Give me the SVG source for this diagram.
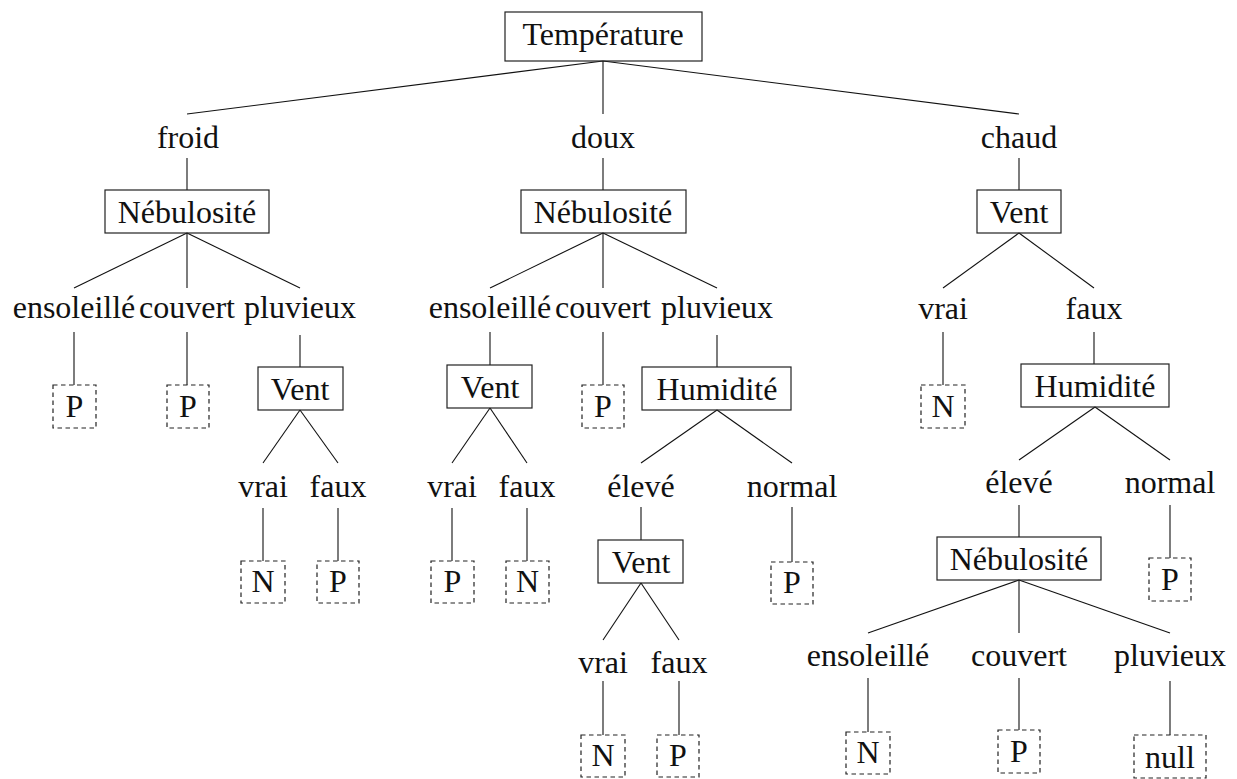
<svg xmlns="http://www.w3.org/2000/svg" width="1237" height="779" viewBox="0 0 1237 779">
<style>
text{font-family:'Liberation Serif','DejaVu Serif',serif;font-size:32px;fill:#111;text-anchor:middle}
.box{fill:none;stroke:#222;stroke-width:1.2}
.leaf{fill:none;stroke:#222;stroke-width:1.2;stroke-dasharray:4.5 3.5}
#edges line{stroke:#111;stroke-width:1.1}
</style>
<rect width="1237" height="779" fill="#fff"/>
<g id="edges">
<line x1="603" y1="61" x2="187" y2="114"/>
<line x1="603" y1="61" x2="603" y2="114"/>
<line x1="603" y1="61" x2="1019" y2="114"/>
<line x1="187" y1="158" x2="187" y2="190"/>
<line x1="603" y1="158" x2="603" y2="190"/>
<line x1="1019" y1="158" x2="1019" y2="190"/>
<line x1="187" y1="233" x2="74" y2="288"/>
<line x1="187" y1="233" x2="187" y2="288"/>
<line x1="187" y1="233" x2="300" y2="288"/>
<line x1="603" y1="233" x2="490" y2="288"/>
<line x1="603" y1="233" x2="603" y2="288"/>
<line x1="603" y1="233" x2="717" y2="288"/>
<line x1="1019" y1="233" x2="943" y2="288"/>
<line x1="1019" y1="233" x2="1094" y2="288"/>
<line x1="74" y1="332" x2="74" y2="385"/>
<line x1="187" y1="332" x2="187" y2="385"/>
<line x1="300" y1="335" x2="300" y2="367"/>
<line x1="490" y1="332" x2="490" y2="365"/>
<line x1="603" y1="332" x2="603" y2="385"/>
<line x1="717" y1="335" x2="717" y2="367"/>
<line x1="943" y1="332" x2="943" y2="385"/>
<line x1="1094" y1="332" x2="1094" y2="364"/>
<line x1="300" y1="410" x2="263" y2="463"/>
<line x1="300" y1="410" x2="338" y2="463"/>
<line x1="490" y1="408" x2="452" y2="463"/>
<line x1="490" y1="408" x2="527" y2="463"/>
<line x1="717" y1="410" x2="641" y2="463"/>
<line x1="717" y1="410" x2="792" y2="463"/>
<line x1="1095" y1="407" x2="1019" y2="460"/>
<line x1="1095" y1="407" x2="1170" y2="460"/>
<line x1="263" y1="508" x2="263" y2="561"/>
<line x1="338" y1="508" x2="338" y2="561"/>
<line x1="452" y1="508" x2="452" y2="561"/>
<line x1="527" y1="508" x2="527" y2="561"/>
<line x1="641" y1="507" x2="641" y2="540"/>
<line x1="792" y1="507" x2="792" y2="562"/>
<line x1="1019" y1="505" x2="1019" y2="537"/>
<line x1="1170" y1="505" x2="1170" y2="558"/>
<line x1="641" y1="583" x2="603" y2="640"/>
<line x1="641" y1="583" x2="679" y2="640"/>
<line x1="603" y1="681" x2="603" y2="735"/>
<line x1="679" y1="681" x2="679" y2="735"/>
<line x1="1019" y1="580" x2="868" y2="633"/>
<line x1="1019" y1="580" x2="1019" y2="633"/>
<line x1="1019" y1="580" x2="1170" y2="633"/>
<line x1="868" y1="678" x2="868" y2="732"/>
<line x1="1019" y1="678" x2="1019" y2="730"/>
<line x1="1170" y1="681" x2="1170" y2="735"/>
</g>
<g id="temperature"><rect class="box" x="505" y="12" width="197" height="49"/><text x="603" y="45">Température</text></g>
<g id="froid"><text x="188" y="148">froid</text></g>
<g id="doux"><text x="603" y="148">doux</text></g>
<g id="chaud"><text x="1019" y="148">chaud</text></g>
<g id="neb1"><rect class="box" x="105" y="190" width="164" height="43"/><text x="187" y="223">Nébulosité</text></g>
<g id="neb2"><rect class="box" x="521" y="190" width="165" height="43"/><text x="603" y="223">Nébulosité</text></g>
<g id="vent3"><rect class="box" x="977" y="190" width="84" height="43"/><text x="1019" y="223">Vent</text></g>
<g id="l-ens1"><text x="74" y="318">ensoleillé</text></g>
<g id="l-cou1"><text x="187" y="318">couvert</text></g>
<g id="l-plu1"><text x="300" y="318">pluvieux</text></g>
<g id="l-ens2"><text x="490" y="318">ensoleillé</text></g>
<g id="l-cou2"><text x="603" y="318">couvert</text></g>
<g id="l-plu2"><text x="717" y="318">pluvieux</text></g>
<g id="l-vrai3"><text x="943" y="319">vrai</text></g>
<g id="l-faux3"><text x="1094" y="319">faux</text></g>
<g id="leaf1"><rect class="leaf" x="53" y="385" width="43" height="43"/><text x="74.5" y="417">P</text></g>
<g id="leaf2"><rect class="leaf" x="167" y="385" width="42" height="43"/><text x="188" y="417">P</text></g>
<g id="vent1"><rect class="box" x="258" y="367" width="85" height="43"/><text x="300" y="400">Vent</text></g>
<g id="vent2"><rect class="box" x="447" y="365" width="85" height="43"/><text x="490" y="398">Vent</text></g>
<g id="leaf3"><rect class="leaf" x="582" y="385" width="42" height="43"/><text x="603" y="417">P</text></g>
<g id="hum2"><rect class="box" x="642" y="367" width="149" height="43"/><text x="717" y="400">Humidité</text></g>
<g id="leaf4"><rect class="leaf" x="921" y="385" width="44" height="43"/><text x="943" y="417">N</text></g>
<g id="hum3"><rect class="box" x="1021" y="364" width="148" height="43"/><text x="1095" y="397">Humidité</text></g>
<g id="l-vrai1"><text x="263" y="497">vrai</text></g>
<g id="l-faux1"><text x="338" y="497">faux</text></g>
<g id="l-vrai2"><text x="452" y="497">vrai</text></g>
<g id="l-faux2"><text x="527" y="497">faux</text></g>
<g id="l-elev2"><text x="641" y="497">élevé</text></g>
<g id="l-norm2"><text x="792" y="497">normal</text></g>
<g id="l-elev3"><text x="1019" y="493">élevé</text></g>
<g id="l-norm3"><text x="1170" y="493">normal</text></g>
<g id="leaf5"><rect class="leaf" x="241" y="561" width="44" height="42"/><text x="263" y="592">N</text></g>
<g id="leaf6"><rect class="leaf" x="317" y="561" width="42" height="42"/><text x="338" y="592">P</text></g>
<g id="leaf7"><rect class="leaf" x="431" y="561" width="43" height="42"/><text x="452.5" y="592">P</text></g>
<g id="leaf8"><rect class="leaf" x="506" y="561" width="43" height="42"/><text x="527.5" y="592">N</text></g>
<g id="vent4"><rect class="box" x="598" y="540" width="85" height="43"/><text x="641" y="573">Vent</text></g>
<g id="leaf9"><rect class="leaf" x="771" y="562" width="42" height="42"/><text x="792" y="593">P</text></g>
<g id="neb3"><rect class="box" x="937" y="537" width="164" height="43"/><text x="1019" y="570">Nébulosité</text></g>
<g id="leaf10"><rect class="leaf" x="1149" y="558" width="42" height="43"/><text x="1170" y="590">P</text></g>
<g id="l-vrai4"><text x="603" y="673">vrai</text></g>
<g id="l-faux4"><text x="679" y="673">faux</text></g>
<g id="l-ens3"><text x="868" y="666">ensoleillé</text></g>
<g id="l-cou3"><text x="1019" y="666">couvert</text></g>
<g id="l-plu3"><text x="1170" y="666">pluvieux</text></g>
<g id="leaf11"><rect class="leaf" x="581" y="735" width="44" height="42"/><text x="603" y="766">N</text></g>
<g id="leaf12"><rect class="leaf" x="657" y="735" width="42" height="42"/><text x="678" y="766">P</text></g>
<g id="leaf13"><rect class="leaf" x="846" y="732" width="44" height="42"/><text x="868" y="763">N</text></g>
<g id="leaf14"><rect class="leaf" x="998" y="730" width="42" height="43"/><text x="1019" y="762">P</text></g>
<g id="leaf15"><rect class="leaf" x="1134" y="735" width="72" height="43"/><text x="1170" y="768">null</text></g>
</svg>
